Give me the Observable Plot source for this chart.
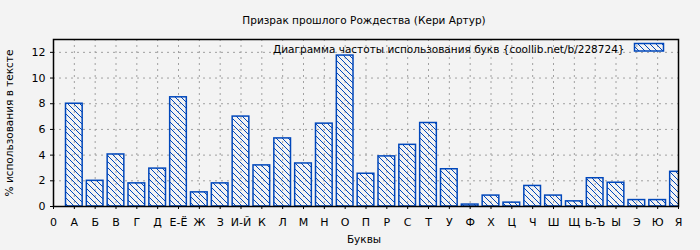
<!DOCTYPE html>
<html>
<head>
<meta charset="utf-8">
<script src="https://cdn.jsdelivr.net/npm/d3@7"></script>
<script src="https://cdn.jsdelivr.net/npm/@observablehq/plot@0.6"></script>
<style>
  html, body { margin: 0; padding: 0; background: #f3f3f3; }
</style>
</head>
<body>
<div id="chart"></div>
<script>
const title = "Призрак прошлого Рождества (Кери Артур)";
const legendLabel = "Диаграмма частоты использования букв {coollib.net/b/228724}";
const xLabel = "Буквы";
const yLabel = "% использования в тексте";
const letters = ["А","Б","В","Г","Д","Е-Ё","Ж","З","И-Й","К","Л","М","Н","О","П","Р","С","Т","У","Ф","Х","Ц","Ч","Ш","Щ","Ь-Ъ","Ы","Э","Ю","Я"];
const values = [8.0,2.0,4.05,1.8,2.95,8.5,1.1,1.8,7.0,3.2,5.3,3.35,6.45,11.75,2.55,3.9,4.8,6.5,2.9,0.15,0.85,0.3,1.6,0.85,0.4,2.2,1.85,0.5,0.5,2.7];
const tickLabels = ["0", ...letters];
const yTicks = [0, 2, 4, 6, 8, 10, 12];

const data = letters.map((l, i) => ({letter: l, pos: i + 1, value: values[i]}));
const xTicks = d3.range(0, tickLabels.length);
const xGrid = d3.range(1, tickLabels.length - 1);
const yGrid = yTicks.filter(v => v > 0);
const blue = "#0047bb";
const half = 0.4;
const fs = 10.5;

const plot = Plot.plot({
  width: 700,
  height: 250,
  marginLeft: 53,
  marginRight: 22,
  marginTop: 39,
  marginBottom: 44,
  style: {background: "#f3f3f3", fontFamily: "DejaVu Sans", fontSize: fs + "px", color: "black"},
  x: {domain: [0, letters.length], axis: null},
  y: {domain: [0, 13], axis: null},
  marks: [
    Plot.ruleY(yGrid, {stroke: "#a0a0a0", strokeDasharray: "2,4", strokeWidth: 1}),
    Plot.ruleX(xGrid, {stroke: "#a0a0a0", strokeDasharray: "2,4", strokeWidth: 1}),
    Plot.rect(data, {
      x1: d => d.pos - half, x2: d => d.pos + half,
      y1: 0, y2: "value",
      fill: "url(#hatch)", stroke: blue, strokeWidth: 1.5, clip: true
    }),
    Plot.axisX(xTicks, {tickSize: 3, tickPadding: 9, tickFormat: i => tickLabels[i], label: null, stroke: "black", fontSize: 11}),
    Plot.axisY(yTicks, {tickSize: 3, tickPadding: 5, label: null, stroke: "black", fontSize: 11}),
    Plot.frame({stroke: "black", strokeWidth: 1.5}),
    Plot.text([title], {frameAnchor: "top", dy: -23, dx: -2, text: d => d, fontSize: fs}),
    Plot.text([xLabel], {frameAnchor: "bottom", dy: 36, dx: -2, text: d => d, fontSize: fs}),
    Plot.text([yLabel], {frameAnchor: "left", dx: -44, rotate: -90, textAnchor: "middle", text: d => d, fontSize: fs}),
    Plot.text([legendLabel], {frameAnchor: "top-right", dx: -54, dy: 6, textAnchor: "end", text: d => d, fontSize: fs})
  ]
});

const svg = d3.select(plot);
const defs = svg.insert("defs", ":first-child");
const pat = defs.append("pattern")
  .attr("id", "hatch")
  .attr("patternUnits", "userSpaceOnUse")
  .attr("width", 6).attr("height", 6);
pat.append("path")
  .attr("d", "M0,0L6,6M-1,5L1,7M5,-1L7,1")
  .attr("stroke", blue).attr("stroke-width", 1).attr("fill", "none");

// legend swatch next to the legend text
svg.append("rect")
  .attr("x", 634.5).attr("y", 43.5)
  .attr("width", 29).attr("height", 7.5)
  .attr("fill", "url(#hatch)")
  .attr("stroke", blue).attr("stroke-width", 1.5);

document.getElementById("chart").append(plot);
</script>
</body>
</html>
